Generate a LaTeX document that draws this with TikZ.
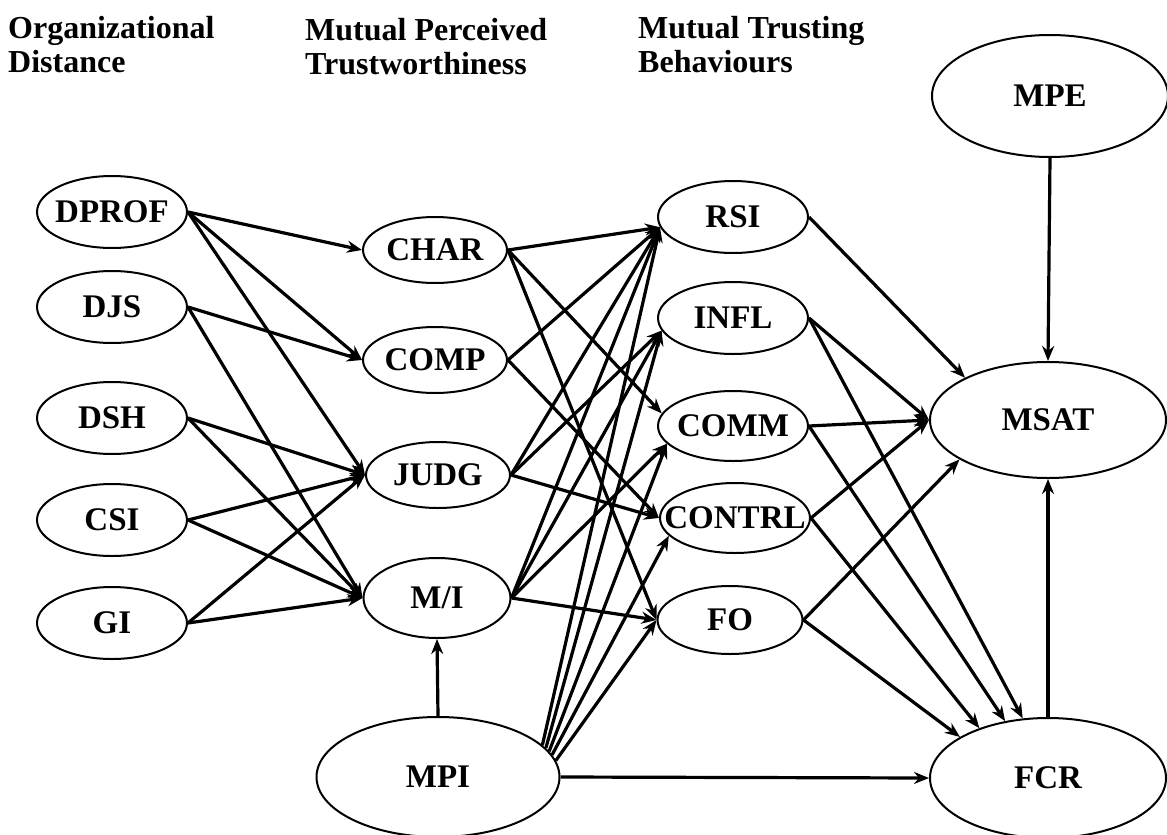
\documentclass[tikz,border=0pt]{standalone}
\usepackage{fontspec}
\setmainfont{Liberation Serif}
\usetikzlibrary{shapes.geometric,arrows.meta}
% label whose width does not enlarge the surrounding ellipse
\newcommand\lab[1]{\makebox[0pt]{#1}}
\begin{document}
\begin{tikzpicture}[x=1pt,y=-1pt,
  oval/.style={draw,ellipse,line width=2pt,inner sep=0pt,
     font=\fontsize{33}{33}\selectfont\bfseries},
  ovs/.style={oval,minimum width=150pt,minimum height=72pt},
  ovm/.style={oval,minimum width=144pt,minimum height=66pt},
  ovl/.style={oval,minimum width=236pt,minimum height=116pt},
  hdr/.style={anchor=north west,align=left,inner sep=0pt,
     font=\fontsize{32}{34}\selectfont\bfseries},
  link/.style={line width=3.2pt,-{Stealth[length=15pt,width=12pt]}},
]
\useasboundingbox (0,0) rectangle (1167,835);

% column headings
\node[hdr] (h1) at (8,16)   {Organizational\\Distance};
\node[hdr] (h2) at (305,18) {Mutual Perceived\\Trustworthiness};
\node[hdr] (h3) at (638,16) {Mutual Trusting\\Behaviours};

% organizational distance
\node[ovs] (DPROF) at (112,212) {\lab{DPROF}};
\node[ovs] (DJS)   at (112,307) {\lab{DJS}};
\node[ovs] (DSH)   at (112,418) {\lab{DSH}};
\node[ovs] (CSI)   at (112,520) {\lab{CSI}};
\node[ovs] (GI)    at (112,623) {\lab{GI}};

% perceived trustworthiness
\node[ovm] (CHAR) at (435,250) {\lab{CHAR}};
\node[ovm] (COMP) at (435,360) {\lab{COMP}};
\node[ovm] (JUDG) at (438,475) {\lab{JUDG}};
\node[ovm,minimum width=147pt,minimum height=80pt] (MI) at (437,598) {\lab{M/I}};
\node[ovl,minimum width=243pt,minimum height=120pt] (MPI) at (438,777) {\lab{MPI}};

% trusting behaviours
\node[ovs] (RSI)    at (733,217) {\lab{RSI}};
\node[ovs] (INFL)   at (733,318) {\lab{INFL}};
\node[ovs,minimum height=70pt] (COMM)   at (733,426) {\lab{COMM}};
\node[ovs,minimum height=70pt] (CONTRL) at (735,518) {\lab{CONTRL}};
\node[ovs,minimum width=145pt,minimum height=68pt] (FO) at (730,620) {\lab{FO}};

% outcomes
\node[ovl,minimum height=122pt] (MPE)  at (1050,96)  {\lab{MPE}};
\node[ovl] (MSAT) at (1048,420) {\lab{MSAT}};
\node[ovl,minimum height=120pt] (FCR) at (1048,778) {\lab{FCR}};

% distance -> trustworthiness
\draw[link] (DPROF.east) -- (CHAR.west);
\draw[link] (DPROF.east) -- (COMP.west);
\draw[link] (DPROF.east) -- (JUDG.west);
\draw[link] (DJS.east) -- (COMP.west);
\draw[link] (DJS.east) -- (MI.west);
\draw[link] (DSH.east) -- (JUDG.west);
\draw[link] (DSH.east) -- (MI.west);
\draw[link] (CSI.east) -- (JUDG.west);
\draw[link] (CSI.east) -- (MI.west);
\draw[link] (GI.east) -- (JUDG.west);
\draw[link] (GI.east) -- (MI.west);
\draw[link] (MPI.north) -- (MI.south);

% trustworthiness -> behaviours
\draw[link] (CHAR.east) -- (RSI.188);
\draw[link] (CHAR.east) -- (COMM.170);
\draw[link] (CHAR.east) -- (FO.west);
\draw[link] (COMP.east) -- (RSI.188);
\draw[link] (COMP.east) -- (CONTRL.west);
\draw[link] (JUDG.east) -- (RSI.188);
\draw[link] (JUDG.east) -- (INFL.190);
\draw[link] (JUDG.east) -- (CONTRL.west);
\draw[link] (MI.east) -- (RSI.188);
\draw[link] (MI.east) -- (INFL.190);
\draw[link] (MI.east) -- (COMM.195);
\draw[link] (MI.east) -- (FO.west);

% MPI fan
\draw[link] (MPI.17) -- (RSI.188);
\draw[link] (MPI.15) -- (INFL.190);
\draw[link] (MPI.13) -- (COMM.195);
\draw[link] (MPI.11) -- (CONTRL.195);
\draw[link] (MPI.8) -- (FO.west);
\draw[link] (MPI.east) -- (FCR.west);

% behaviours -> outcomes
\draw[link] (RSI.east) -- (MSAT.153);
\draw[link] (INFL.east) -- (MSAT.west);
\draw[link] (COMM.east) -- (MSAT.west);
\draw[link] (CONTRL.east) -- (MSAT.west);
\draw[link] (FO.east) -- (MSAT.204);
\draw[link] (INFL.east) -- (FCR.113);
\draw[link] (COMM.east) -- (FCR.127);
\draw[link] (CONTRL.east) -- (FCR.144);
\draw[link] (FO.east) -- (FCR.155);
\draw[link] (MPE.south) -- (MSAT.north);
\draw[link] (FCR.north) -- (MSAT.south);
\end{tikzpicture}
\end{document}
